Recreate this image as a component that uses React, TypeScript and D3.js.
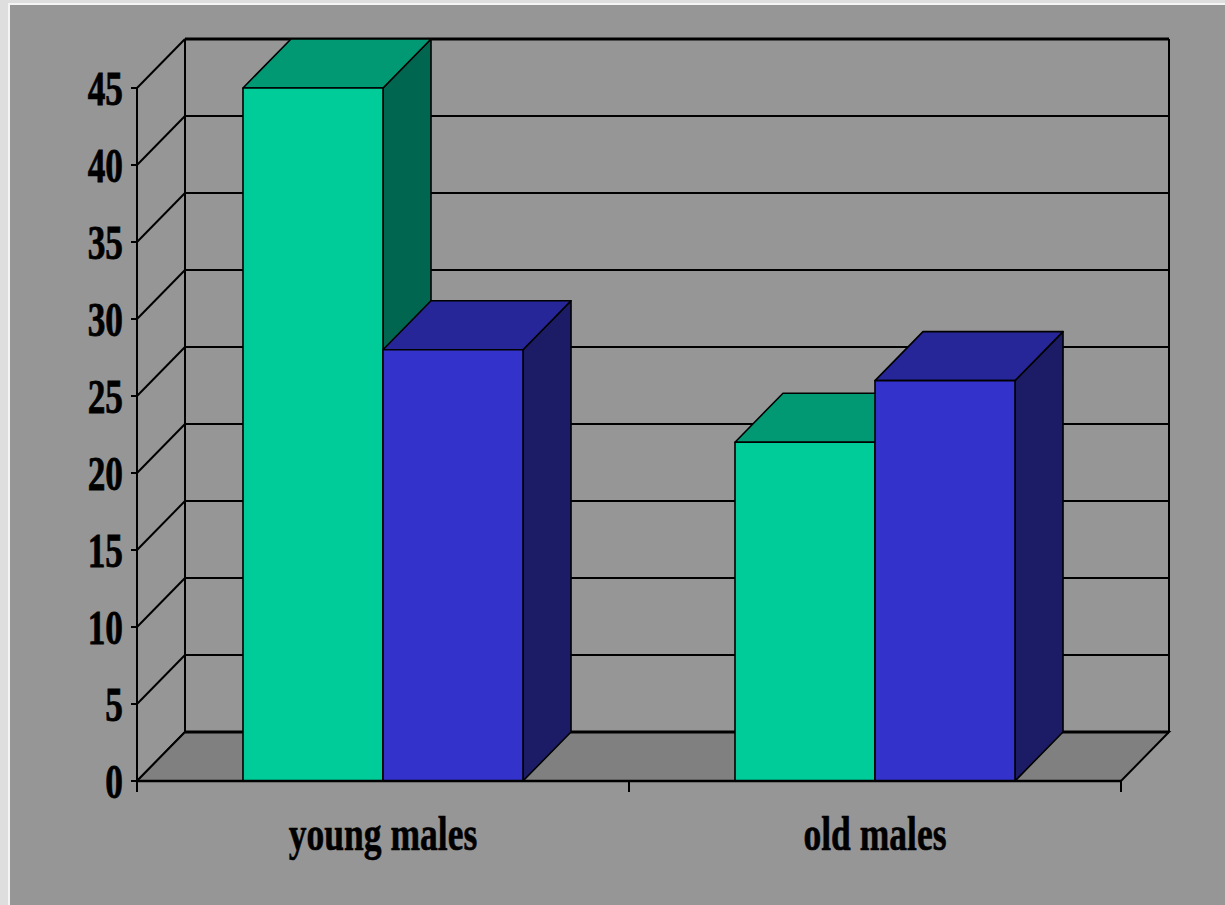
import React from "react";
import * as d3 from "d3";

const categories = ["young males", "old males"];
const series = ["series1", "series2"];
const values1 = [45, 22];
const values2 = [28, 26];
const yTicks = [0, 5, 10, 15, 20, 25, 30, 35, 40, 45];

const W = 1225;
const H = 905;
const DX = 48;
const DY = 49;

const faceColors = [
  { front: "#00CC99", top: "#009973", side: "#006650" },
  { front: "#3333CC", top: "#262699", side: "#1C1C66" },
];

export default function App() {
  const y = d3.scaleLinear().domain([0, 45]).range([781, 88]);
  const x = d3.scaleBand<string>().domain(categories).range([137, 1121]).padding(0);
  const xs = d3
    .scaleBand<string>()
    .domain(series)
    .range([0, x.bandwidth()])
    .paddingInner(0)
    .paddingOuter(0.757);

  const x0 = 137;
  const x1 = 1121;
  const y0 = y(0);
  const yTop = y(45);

  const vals = [values1, values2];

  const bars: JSX.Element[] = [];
  categories.forEach((c, ci) => {
    series.forEach((s, si) => {
      const v = vals[si][ci];
      const bx0 = (x(c) as number) + (xs(s) as number);
      const bx1 = bx0 + xs.bandwidth();
      const yt = y(v);
      const col = faceColors[si];
      const top = `M${bx0},${yt}L${bx1},${yt}L${bx1 + DX},${yt - DY}L${bx0 + DX},${yt - DY}Z`;
      const side = `M${bx1},${yt}L${bx1 + DX},${yt - DY}L${bx1 + DX},${y0 - DY}L${bx1},${y0}Z`;
      bars.push(
        <g key={`${ci}-${si}`} stroke="#000" strokeWidth={1.6} strokeLinejoin="round">
          <path d={side} fill={col.side} />
          <path d={top} fill={col.top} />
          <rect x={bx0} y={yt} width={bx1 - bx0} height={y0 - yt} fill={col.front} />
        </g>
      );
    });
  });

  const font = "'Liberation Serif', 'Times New Roman', serif";

  return (
    <svg
      width={W}
      height={H}
      style={{ position: "fixed", left: 0, top: 0, display: "block" }}
    >
      <rect x={0} y={0} width={W} height={H} fill="#dedede" />
      <rect x={8} y={3} width={W} height={H} fill="#f4f4f4" />
      <rect x={10} y={5} width={W} height={H} fill="#969696" />

      {/* back wall gridlines */}
      <g stroke="#000" strokeWidth={2}>
        {yTicks.map((t) => (
          <line key={"h" + t} x1={x0 + DX} x2={x1 + DX} y1={y(t) - DY} y2={y(t) - DY} />
        ))}
        {yTicks.map((t) => (
          <line key={"d" + t} x1={x0} x2={x0 + DX} y1={y(t)} y2={y(t) - DY} />
        ))}
        <line x1={x0 + DX} x2={x0 + DX} y1={yTop - DY} y2={y0 - DY} />
        <line x1={x1 + DX} x2={x1 + DX} y1={yTop - DY} y2={y0 - DY} />
        <line x1={x0 + DX} x2={x1 + DX} y1={yTop - DY} y2={yTop - DY} strokeWidth={3} />
      </g>

      {/* floor */}
      <path
        d={`M${x0},${y0}L${x1},${y0}L${x1 + DX},${y0 - DY}L${x0 + DX},${y0 - DY}Z`}
        fill="#808080"
        stroke="#000"
        strokeWidth={2}
      />
      <line x1={x0 + DX} x2={x1 + DX} y1={y0 - DY} y2={y0 - DY} stroke="#000" strokeWidth={3} />

      {bars}

      {/* axes */}
      <g stroke="#000" strokeWidth={2}>
        <line x1={x0} x2={x0} y1={yTop} y2={y0 + 11} />
        <line x1={x0} x2={x1} y1={y0} y2={y0} strokeWidth={2.5} />
        {yTicks.map((t) => (
          <line key={"t" + t} x1={x0 - 6} x2={x0} y1={y(t)} y2={y(t)} />
        ))}
        {[x0, x0 + x.bandwidth(), x1].map((p, i) => (
          <line key={"c" + i} x1={p} x2={p} y1={y0} y2={y0 + 11} />
        ))}
      </g>

      {yTicks.map((t) => (
        <g key={"l" + t} transform={`translate(123,${y(t) + 17}) scale(0.72,1)`}>
          <text
            x={0}
            y={0}
            textAnchor="end"
            fontFamily={font}
            fontWeight="bold"
            fontSize={49}
            fill="#000"
            stroke="#000"
            strokeWidth={0.8}
          >
            {t}
          </text>
        </g>
      ))}

      {categories.map((c) => (
        <g
          key={"cat" + c}
          transform={`translate(${(x(c) as number) + x.bandwidth() / 2},850) scale(0.74,1)`}
        >
          <text
            x={0}
            y={0}
            textAnchor="middle"
            fontFamily={font}
            fontWeight="bold"
            fontSize={48}
            fill="#000"
            stroke="#000"
            strokeWidth={0.6}
          >
            {c}
          </text>
        </g>
      ))}
    </svg>
  );
}
